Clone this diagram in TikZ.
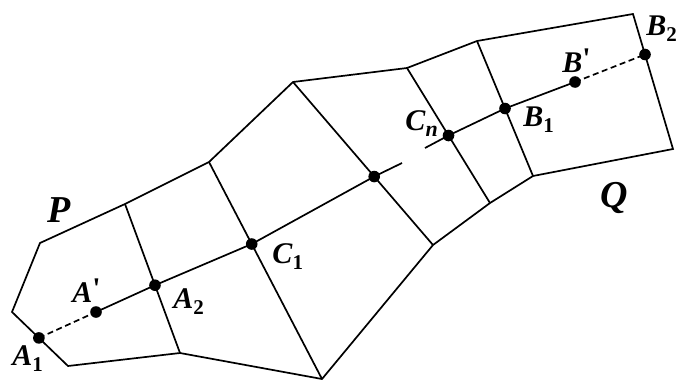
\documentclass[tikz,border=0pt]{standalone}
\usepackage{fontspec}
\setmainfont{Liberation Serif}
\usetikzlibrary{positioning,calc}

\newcommand{\ptlabel}[2]{\textbf{\textit{#1}}\raisebox{-0.5ex}{\fontsize{10.5}{10.5}\selectfont\bfseries #2}}

\begin{document}
\begin{tikzpicture}[
      x=0.5pt, y=-0.5pt,
      edge/.style={line width=0.85pt},
      dashline/.style={edge, dash pattern=on 3pt off 1.8pt},
      dot/.style={circle, fill, inner sep=0pt, minimum size=5.8pt},
      lbl/.style={anchor=base west, inner sep=0pt, font=\fontsize{15}{15}\selectfont},
      region/.style={anchor=base west, inner sep=0pt, font=\fontsize{19}{19}\selectfont\bfseries\itshape},
    ]
    \useasboundingbox (0,0) rectangle (679,380);
    % outline corners
    \coordinate (p1) at (40,243);
    \coordinate (p2) at (12,312);
    \coordinate (p3) at (68,366);
    \coordinate (t1) at (125,204);
    \coordinate (t2) at (209,162);
    \coordinate (t3) at (293,82);
    \coordinate (t4) at (407,68);
    \coordinate (t5) at (477,41);
    \coordinate (q1) at (633,14);
    \coordinate (q2) at (673,149);
    \coordinate (u5) at (533,176);
    \coordinate (u4) at (490,203);
    \coordinate (u3) at (433,245);
    \coordinate (u2) at (322,379);
    \coordinate (u1) at (180,353);
    % points on the cuts
    \coordinate (a1) at ($(p2)!0.48!(p3)$);
    \coordinate (a2) at ($(t1)!0.545!(u1)$);
    \coordinate (c1) at ($(t2)!0.378!(u2)$);
    \coordinate (cm) at ($(t3)!0.58!(u3)$);
    \coordinate (cn) at ($(t4)!0.5!(u4)$);
    \coordinate (b1) at ($(t5)!0.5!(u5)$);
    \coordinate (b2) at ($(q1)!0.3!(q2)$);
    \coordinate (ap) at (96,312);
    \coordinate (bp) at (575,82);
    \coordinate (s1) at (402,163);
    \coordinate (s2) at (425,148);

    \draw[edge] (a1) -- (p2) -- (p1) -- (t1) -- (t2) -- (t3) -- (t4) -- (t5)
      -- (q1) -- (q2) -- (u5) -- (u4) -- (u3) -- (u2) -- (u1) -- (p3) -- cycle;
    \draw[edge] (t1) -- (u1);
    \draw[edge] (t2) -- (u2);
    \draw[edge] (t3) -- (u3);
    \draw[edge] (t4) -- (u4);
    \draw[edge] (t5) -- (u5);

    \draw[dashline] (a1) -- (ap);
    \draw[edge] (ap) -- (a2) -- (c1) -- (cm) -- (s1);
    \draw[edge] (s2) -- (cn) -- (b1) -- (bp);
    \draw[dashline] (bp) -- (b2);

    \foreach \p in {a1,ap,a2,c1,cm,cn,b1,bp,b2}
      \node[dot] (\p-dot) at (\p) {};

    \node[region] (lp) at (47,222) {P};
    \node[region] (lq) at (600,207) {Q};
    \node[lbl] (la1) at (12,365) {\ptlabel{A}{1}};
    \node[lbl] (lap) at (72,302) {\textbf{\textit{A}}\raisebox{0.25ex}{\bfseries\textquotesingle}};
    \node[lbl] (la2) at (173,308) {\ptlabel{A}{2}};
    \node[lbl] (lc1) at (272,263) {\ptlabel{C}{1}};
    \node[lbl] (lcn) at (405,130) {\textbf{\textit{C}}\raisebox{-0.5ex}{\fontsize{11}{11}\selectfont\bfseries\itshape n}};
    \node[lbl] (lb1) at (523,126) {\ptlabel{B}{1}};
    \node[lbl] (lbp) at (562,72) {\textbf{\textit{B}}\raisebox{0.25ex}{\bfseries\textquotesingle}};
    \node[lbl] (lb2) at (646,35) {\ptlabel{B}{2}};
  \end{tikzpicture}
\end{document}
